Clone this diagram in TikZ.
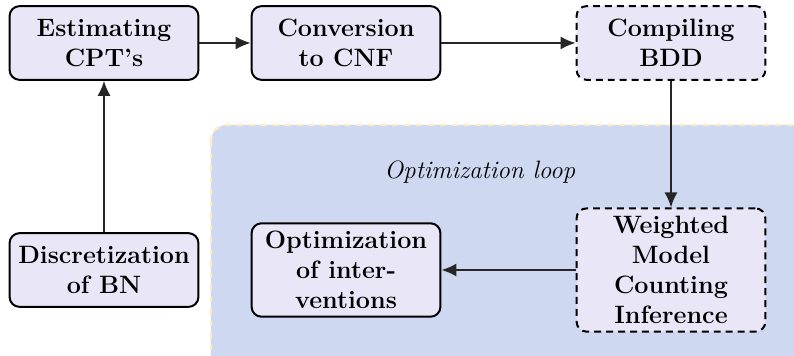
\documentclass[tikz,border=0pt]{standalone}
\usepackage{tikz}
\usetikzlibrary{arrows.meta}
\definecolor{boxfill}{RGB}{232,230,247}
\definecolor{loopfill}{RGB}{206,216,240}
\definecolor{loopline}{RGB}{255,236,198}
\begin{document}
\begin{tikzpicture}[font=\fontsize{12.6}{15.2}\selectfont,line join=round,>={Latex[length=7.5pt,width=6.5pt]},
	block/.style={draw,line width=1pt,rounded corners=5pt,fill=boxfill,align=center,font=\fontsize{12.6}{15}\selectfont\bfseries,minimum width=3.33cm,minimum height=1.3cm,inner sep=4pt},
	dblock/.style={block,dash pattern=on 3.5pt off 2.5pt},
	link/.style={->,line width=0.8pt,black!85}]
			\useasboundingbox (0,0) rectangle (14,6.277);
			% optimization loop background
			\begin{scope}
				\clip (0,0) rectangle (14,6.277);
				\draw[loopline,fill=loopfill,dashed,line width=1.2pt,rounded corners=8pt] (3.72,4.073) rectangle (14.4,-0.4);
			\end{scope}
			\node at (8.46,3.24) {\itshape Optimization loop};
			\node[block] (est) at (1.834,5.519) {Estimating\\ CPT's};
			\node[block] (cnf) at (6.101,5.519) {Conversion\\ to CNF};
			\node[dblock] (bdd) at (11.831,5.519) {Compiling\\ BDD};
			\node[block] (disc) at (1.834,1.516) {Discretization\\ of BN};
			\node[block] (opt) at (6.101,1.516) {Optimization\\ of inter-\\ ventions};
			\node[dblock] (wmc) at (11.831,1.516) {Weighted\\ Model\\ Counting\\ Inference};
			\draw[link] (disc)--(est);
			\draw[link] (est)--(cnf);
			\draw[link] (cnf)--(bdd);
			\draw[link] (bdd)--(wmc);
			\draw[link] (wmc)--(opt);
	\end{tikzpicture}
\end{document}
